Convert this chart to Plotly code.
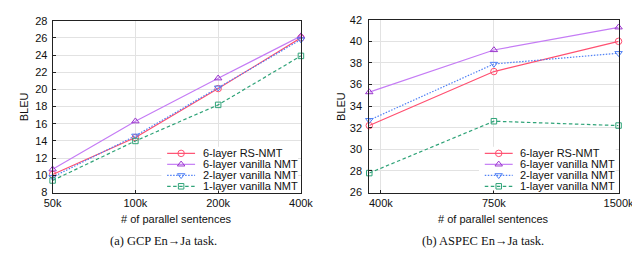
import math
import plotly.graph_objects as go

# ---------------- data ----------------
series_names = ["6-layer RS-NMT", "6-layer vanilla NMT", "2-layer vanilla NMT", "1-layer vanilla NMT"]

gcp_x = [50000, 100000, 200000, 400000]
gcp_ticktext = ["50k", "100k", "200k", "400k"]
gcp_rs = [10.1, 14.4, 20.1, 26.0]
gcp_v6 = [10.7, 16.3, 21.3, 26.2]
gcp_v2 = [9.8, 14.6, 20.2, 25.8]
gcp_v1 = [9.4, 14.0, 18.2, 23.9]

aspec_x = [375000, 750000, 1500000]
aspec_tickvals = [400000, 750000, 1500000]
aspec_ticktext = ["400k", "750k", "1500k"]
aspec_rs = [32.2, 37.2, 40.0]
aspec_v6 = [35.3, 39.2, 41.3]
aspec_v2 = [32.7, 37.9, 38.9]
aspec_v1 = [27.8, 32.6, 32.2]

# ---------------- style ----------------
W, H = 640, 264
FONT = "Liberation Sans, Arial, sans-serif"
SERIF = "Liberation Serif, Times New Roman, serif"
styles = [
    dict(line=dict(color="#ff4f70", width=1.2, dash="solid"),
         marker=dict(symbol="circle-open", size=6.5, color="#ff4f70", line=dict(width=1.0))),
    dict(line=dict(color="#c57cf5", width=1.2, dash="solid"),
         marker=dict(symbol="triangle-up-open", size=6.5, color="#9a35cc", line=dict(width=1.0))),
    dict(line=dict(color="#4f80f5", width=1.2, dash="1.5px,1.5px"),
         marker=dict(symbol="triangle-down-open", size=6.5, color="#4f80f5", line=dict(width=1.0))),
    dict(line=dict(color="#2fa378", width=1.2, dash="3.5px,2.5px"),
         marker=dict(symbol="square-open", size=5.5, color="#2fa378", line=dict(width=1.0))),
]


def px_x(p):
    return p / W


def px_y(p):
    return 1 - p / H


fig = go.Figure()

gcp_vals = [gcp_rs, gcp_v6, gcp_v2, gcp_v1]
aspec_vals = [aspec_rs, aspec_v6, aspec_v2, aspec_v1]

for name, st, ys in zip(series_names, styles, gcp_vals):
    fig.add_trace(go.Scatter(x=gcp_x, y=ys, mode="lines+markers", name=name,
                             xaxis="x", yaxis="y", showlegend=False, cliponaxis=False, **st))
for name, st, ys in zip(series_names, styles, aspec_vals):
    fig.add_trace(go.Scatter(x=aspec_x, y=ys, mode="lines+markers", name=name,
                             xaxis="x2", yaxis="y2", showlegend=False, cliponaxis=False, **st))

# ---------------- manual legends (pixel-space overlay axis) ----------------
legend_rows = [146, 157.5, 169, 180.5]
legend_boxes = [(150, 292), (480, 622)]  # left/right px of legend box per panel
annotations = []
for (bx0, bx1) in legend_boxes:
    fig.add_trace(go.Scatter(x=[bx0, bx1, bx1, bx0, bx0], y=[139, 139, 185, 185, 139],
                             mode="lines", fill="toself", fillcolor="white",
                             line=dict(width=0, color="white"), hoverinfo="skip",
                             xaxis="x3", yaxis="y3", showlegend=False))
    lx0 = bx0 + 6
    lx1 = bx0 + 35
    for name, st, ry in zip(series_names, styles, legend_rows):
        fig.add_trace(go.Scatter(x=[lx0, lx1], y=[ry, ry], mode="lines", line=st["line"],
                                 xaxis="x3", yaxis="y3", showlegend=False, hoverinfo="skip"))
        fig.add_trace(go.Scatter(x=[(lx0 + lx1) / 2], y=[ry], mode="markers", marker=st["marker"],
                                 xaxis="x3", yaxis="y3", showlegend=False, hoverinfo="skip"))
        annotations.append(dict(x=bx0 + 41, y=ry, xref="x3", yref="y3", text=name,
                                showarrow=False, xanchor="left", yanchor="middle",
                                font=dict(family=FONT, size=11, color="#111")))

# ---------------- axes ----------------
axis_common = dict(showline=True, linecolor="#222", linewidth=1, mirror=True,
                   showgrid=True, gridcolor="#e2e2e2", gridwidth=1,
                   ticks="inside", ticklen=3, tickcolor="#222",
                   tickfont=dict(family=FONT, size=11, color="#111"), zeroline=False)

fig.update_layout(
    width=W, height=H,
    margin=dict(l=0, r=0, t=0, b=0),
    paper_bgcolor="white", plot_bgcolor="rgba(0,0,0,0)",
    xaxis=dict(type="log", domain=[px_x(37), px_x(295)],
               range=[math.log10(gcp_x[0]), math.log10(gcp_x[-1])],
               tickvals=gcp_x, ticktext=gcp_ticktext, anchor="y", **axis_common),
    yaxis=dict(domain=[px_y(187), px_y(7)], range=[8, 28], dtick=2, anchor="x",
               ticklabelstandoff=2, **axis_common),
    xaxis2=dict(type="log", domain=[px_x(366), px_x(625)],
                range=[math.log10(aspec_x[0]), math.log10(aspec_x[-1])],
                tickvals=aspec_tickvals, ticktext=aspec_ticktext, anchor="y2", **axis_common),
    yaxis2=dict(domain=[px_y(187), px_y(6)], range=[26, 42], dtick=2, anchor="x2",
                ticklabelstandoff=4, **axis_common),
    xaxis3=dict(domain=[0, 1], range=[0, W], visible=False, anchor="y3", fixedrange=True),
    yaxis3=dict(domain=[0, 1], range=[H, 0], visible=False, anchor="x3", fixedrange=True),
)

# ---------------- titles / captions ----------------
texts = [
    ("BLEU", 7, 97, 11, FONT, -90),
    ("BLEU", 336, 97, 11, FONT, -90),
    ("# of parallel sentences", 166, 214.5, 11, FONT, 0),
    ("# of parallel sentences", 495, 214.5, 11, FONT, 0),
    ("(a) GCP En\u2192Ja task.", 152, 238, 12.5, SERIF, 0),
    ("(b) ASPEC En\u2192Ja task.", 484, 238, 12.5, SERIF, 0),
]
for t, x, y, s, fam, ang in texts:
    annotations.append(dict(x=px_x(x), y=px_y(y), xref="paper", yref="paper", text=t,
                            showarrow=False, xanchor="center", yanchor="middle", textangle=ang,
                            font=dict(family=fam, size=s, color="#111")))

fig.update_layout(annotations=annotations)

fig.write_html("out.html")
